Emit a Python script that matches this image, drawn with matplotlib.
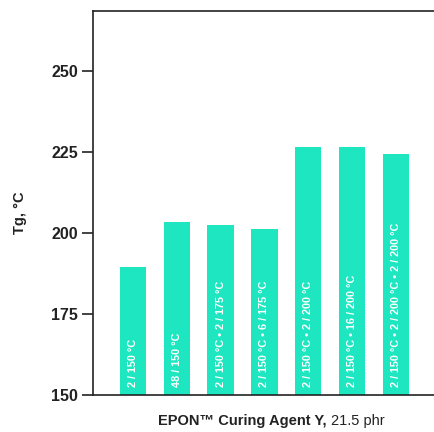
import matplotlib
matplotlib.use("Agg")
import matplotlib.pyplot as plt

# data
cures = ["2 / 150 °C", "48 / 150 °C", "2 / 150 °C • 2 / 175 °C", "2 / 150 °C • 6 / 175 °C",
         "2 / 150 °C • 2 / 200 °C", "2 / 150 °C • 16 / 200 °C", "2 / 150 °C • 2 / 200 °C • 2 / 200 °C"]
tg = [189.5, 203.3, 202.5, 201.3, 226.4, 226.4, 224.3]
yticks = [150, 175, 200, 225, 250]

plt.rcParams['font.family'] = ['Liberation Sans', 'DejaVu Sans']
color = "#1DE6C0"
ink = "#222222"

fig = plt.figure(figsize=(4.35, 4.32), dpi=100)
ax = fig.add_axes([0.214, 0.0856, 0.786, 0.889])

x = list(range(len(tg)))
ax.bar(x, tg, width=0.6, color=color)
for xi, lab in zip(x, cures):
    ax.text(xi, 152.5, lab, rotation=90, ha="center", va="bottom", color="white",
            fontsize=7.8, fontweight="bold")

ax.set_ylim(150, 268.5)
ax.set_xlim(-0.91, 6.89)
ax.set_yticks(yticks)
ax.set_xticks([])
ax.tick_params(axis="y", direction="out", length=8, width=1.2, labelsize=11.5,
               pad=3, colors=ink)
for lab in ax.get_yticklabels():
    lab.set_fontweight("bold")
ax.spines["right"].set_visible(False)
for s in ["left", "top", "bottom"]:
    ax.spines[s].set_linewidth(1.2)
    ax.spines[s].set_color(ink)

fig.text(0.045, 0.508, "Tg, °C", rotation=90, ha="center", va="center", fontsize=10.5,
         fontweight="bold", color=ink)
fig.text(0.752, 0.025, "EPON\u2122 Curing Agent Y,", ha="right", va="center", fontsize=10.5,
         fontweight="bold", color=ink)
fig.text(0.762, 0.025, "21.5 phr", ha="left", va="center", fontsize=10.5, color=ink)

fig.savefig("out.png", dpi=100)
